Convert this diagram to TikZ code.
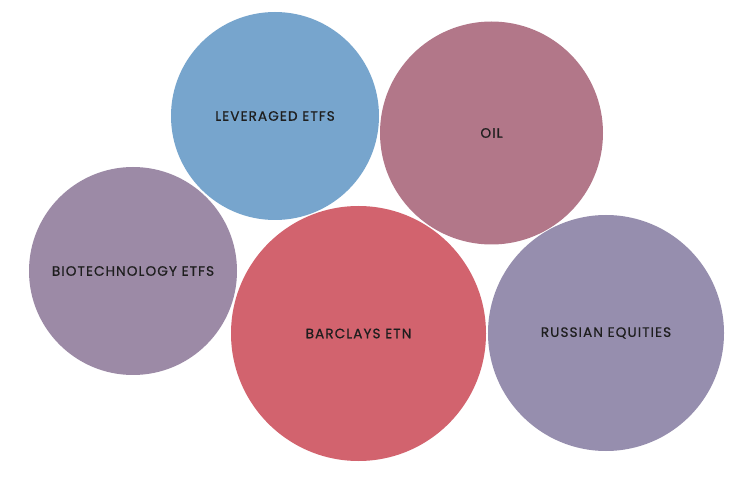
\documentclass[tikz,border=0pt]{standalone}
\usepackage{fontspec}
\setmainfont{Poppins}[LetterSpace=8,FakeBold=0.6]
\definecolor{cblue}{HTML}{77A5CD}
\definecolor{coil}{HTML}{B27789}
\definecolor{cbio}{HTML}{9C8AA6}
\definecolor{cbar}{HTML}{D2636E}
\definecolor{crus}{HTML}{968EAE}
\definecolor{ctext}{HTML}{1E1E1E}
\tikzset{bubble/.style={circle, inner sep=0pt, text=ctext, font=\fontsize{13.6}{15}\selectfont}}
\begin{document}
\begin{tikzpicture}[x=1pt,y=-1pt]
\useasboundingbox (0,0) rectangle (750,478);
\fill[white] (0,0) rectangle (750,478);
\node[bubble, fill=cblue, minimum size=208pt] (lev) at (275,116) {LEVERAGED ETFS};
\node[bubble, fill=coil, minimum size=223pt] (oil) at (491.5,133) {OIL};
\node[bubble, fill=cbio, minimum size=208pt] (bio) at (133,271) {BIOTECHNOLOGY ETFS};
\node[bubble, fill=cbar, minimum size=255pt] (bar) at (358.5,333.5) {BARCLAYS ETN};
\node[bubble, fill=crus, minimum size=236pt] (rus) at (606,333) {RUSSIAN EQUITIES};
\end{tikzpicture}
\end{document}
